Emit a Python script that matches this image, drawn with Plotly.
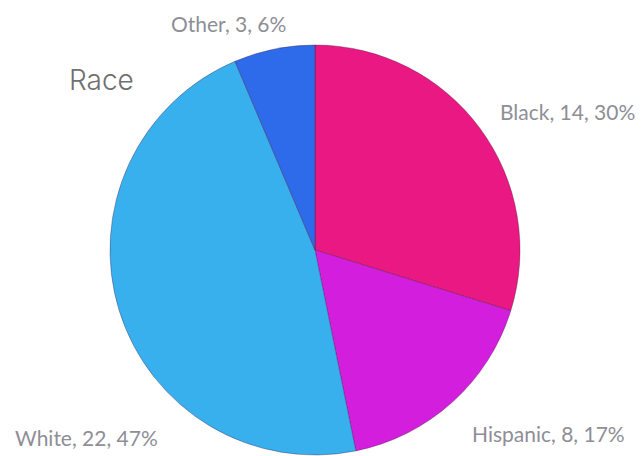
import plotly.graph_objects as go

# Race breakdown
categories = ["Black", "Hispanic", "White", "Other"]
counts = [14, 8, 22, 3]
colors = ["#EA1882", "#D41EDE", "#38B0EE", "#2D6BEA"]

# Label anchor points (pixels from top-left) for each category
label_pos = {
    "Black": (567, 111),
    "Hispanic": (548, 433),
    "White": (86, 437),
    "Other": (228, 24),
}

W, H = 641, 456
total = sum(counts)

fig = go.Figure(
    go.Pie(
        labels=categories,
        values=counts,
        sort=False,
        direction="clockwise",
        rotation=0,
        marker=dict(colors=colors, line=dict(color="rgba(60,20,60,0.35)", width=1)),
        textinfo="none",
        hoverinfo="label+value+percent",
        domain=dict(x=[110 / W, 520 / W], y=[1 / H, 411 / H]),
        showlegend=False,
    )
)

annotations = []
for cat, val in zip(categories, counts):
    pct = round(val / total * 100)
    px, py = label_pos[cat]
    annotations.append(
        dict(
            x=px / W, y=1 - py / H, xref="paper", yref="paper",
            text=f"{cat}, {val}, {pct}%", showarrow=False,
            xanchor="center", yanchor="middle",
            font=dict(family="Lato, Open Sans, sans-serif", size=21, color="#8E8E96"),
        )
    )

annotations.append(
    dict(
        x=101 / W, y=1 - 80 / H, xref="paper", yref="paper",
        text="Race", showarrow=False, xanchor="center", yanchor="middle",
        font=dict(family="Inter, Noto Sans, sans-serif", size=28, color="#707070", weight=300),
    )
)

fig.update_layout(
    width=W, height=H,
    margin=dict(l=0, r=0, t=0, b=0),
    paper_bgcolor="white",
    plot_bgcolor="white",
    annotations=annotations,
)

fig.write_html("out.html")
